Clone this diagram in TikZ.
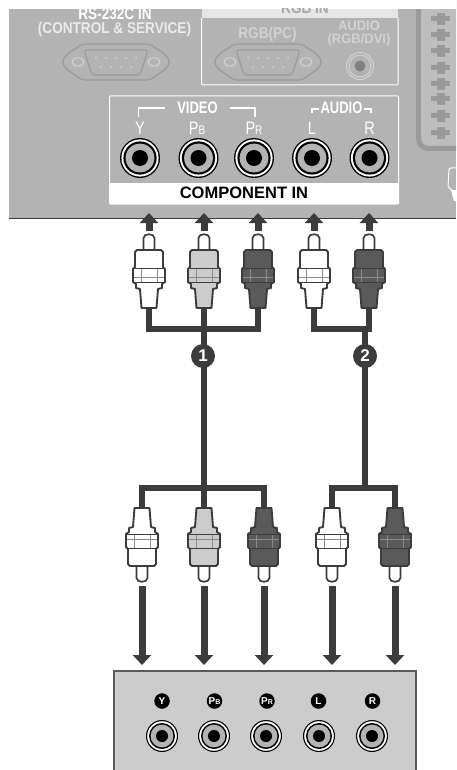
\documentclass[tikz,border=0pt]{standalone}
\usepackage{fontspec}
\setmainfont{Liberation Sans}
\usetikzlibrary{arrows.meta}
\definecolor{panel}{HTML}{B3B3B3}
\definecolor{dk}{HTML}{3C3C3C}
\definecolor{mid}{HTML}{CCCCCC}
\definecolor{drk}{HTML}{5A5A5A}
\definecolor{soft}{HTML}{D2D2D2}
\definecolor{scartin}{HTML}{BDBDBD}
\definecolor{scartln}{HTML}{9A9A9A}
\newcommand{\tall}[2][1.22]{\scalebox{1}[#1]{#2}}
\tikzset{
  cable/.style={draw=dk,line width=6pt},
  flow/.style={draw=dk,line width=7pt,-{Triangle[width=18pt,length=10pt]}},
  tlabel/.style={inner sep=0pt,font=\bfseries\fontsize{13.6}{13.6}\selectfont,text=white},
  jlabel/.style={inner sep=0pt,font=\fontsize{14.5}{14.5}\selectfont,text=white},
  portline/.style={draw=white,line width=1.1pt},
  badge/.style={circle,fill=dk,minimum size=24pt,inner sep=0pt,text=white,font=\bfseries\fontsize{17}{17}\selectfont},
  minibadge/.style={circle,fill=black,minimum size=15.5pt,inner sep=0pt,text=white,font=\bfseries\fontsize{10}{10}\selectfont},
  dsub/.style={draw=scartln,line width=1.2pt}
}
\newcommand{\plugbody}[1]{%
  \draw[draw=dk,fill=white,line width=1.7pt] (-5.5,-56) -- (-5.5,-70) .. controls (-5.5,-75) and (5.5,-75) .. (5.5,-70) -- (5.5,-56) -- cycle;
  \draw[draw=dk,fill=#1,line width=1.9pt,line join=round]
    (-7.5,0) -- (-9,-19) -- (-13,-20) -- (-13,-24) -- (-16,-26) -- (-16,-39) -- (-14,-41) -- (-14,-56) -- (-12,-58)
    -- (12,-58) -- (14,-56) -- (14,-41) -- (16,-39) -- (16,-26) -- (13,-24) -- (13,-20) -- (9,-19) -- (7.5,0) -- cycle;
  \draw[draw=drk!70!white,line width=.9pt] (-8,-40) -- (-8,-26) (8,-40) -- (8,-26) (-15,-31) -- (15,-31);
  \draw[draw=dk,line width=1pt] (-15,-26) -- (15,-26) (-14,-40) -- (14,-40);
}
\newcommand{\bigjack}[2]{%
  \fill[black] (#1) circle[radius=20];
  \fill[white] (#1) circle[radius=18.6];
  \fill[black] (#1) circle[radius=16.6];
  \fill[panel] (#1) circle[radius=14.4];
  \node[circle,fill=black,minimum size=16pt,inner sep=0pt] (#2) at (#1) {};
}
\newcommand{\smalljack}[2]{%
  \fill[black] (#1) circle[radius=16];
  \fill[white] (#1) circle[radius=14.8];
  \fill[black] (#1) circle[radius=13];
  \fill[panel] (#1) circle[radius=11.4];
  \node[circle,fill=black,minimum size=12pt,inner sep=0pt] (#2) at (#1) {};
}
\newcommand{\serial}[1]{%
  \begin{scope}[shift={(#1)}]
    \draw[dsub] (-44,-11) .. controls (-34,-18) and (-34,-18) .. (-28,-18) -- (28,-18)
       .. controls (34,-18) and (34,-18) .. (44,-11) .. controls (56,-4) and (56,4) .. (44,11)
       .. controls (34,18) and (34,18) .. (28,18) -- (-28,18)
       .. controls (-34,18) and (-34,18) .. (-44,11) .. controls (-56,4) and (-56,-4) .. (-44,-11) -- cycle;
    \draw[dsub,rounded corners=3pt] (-32,-12) -- (32,-12) -- (24,13) -- (-24,13) -- cycle;
    \draw[draw=soft,line width=1.1pt] (-38,0) ellipse[x radius=6,y radius=4.2];
    \draw[draw=soft,line width=1.1pt] (38,0) ellipse[x radius=6,y radius=4.2];
    \foreach \px in {-20,-10,0,10,20} \fill[soft] (\px,-4) circle[radius=1];
    \foreach \px in {-15,-5,5,15} \fill[soft] (\px,5) circle[radius=1];
  \end{scope}}
\begin{document}
\begin{tikzpicture}[x=1pt,y=-1pt]
\useasboundingbox (0,0) rectangle (456,770);
\clip (0,0) rectangle (456,770);
\fill[white] (0,0) rectangle (456,770);
% back panel
\fill[panel] (9,9) rectangle (456,218.5);
\draw[draw=dk,line width=1pt] (9,218.5) -- (456,218.5);
% scart
\draw[draw=scartln,fill=scartin,line width=5pt,rounded corners=10pt] (418.5,0) -- (418.5,148.5) -- (475,148.5) -- (475,0);
\fill[white] (410,0) rectangle (460,9);
\foreach \py in {19,35,51,68,84,99,116,133}{
  \fill[scartln] (431,\py-2.5) rectangle (450,\py+2.5);
  \fill[scartln] (436.5,\py-6) rectangle (444.5,\py+6);
}
\draw[draw=white,line width=1pt,rounded corners=2pt] (456,168) -- (449,168) -- (448,188) -- (453,190) -- (453,196);
\fill[white] (451,190) -- (456,190) -- (456,201) -- (454,201) -- cycle;
% rs232
\begin{scope}
  \clip (9,9) rectangle (200,60);
  \node[tlabel] (rs) at (115,13.5) {\tall{RS-232C IN}};
\end{scope}
\node[tlabel,text=white!92!black] (ctl) at (114.5,29.5) {\tall[1.15]{(CONTROL \& SERVICE)}};
\serial{116,62}
% rgb box
\fill[soft!55!white] (201.5,9) rectangle (398,18);
\begin{scope}
  \clip (201,9) rectangle (398,18);
  \node[tlabel,text=soft!80!black] (rgbin) at (305,8) {\tall{RGB IN}};
\end{scope}
\draw[draw=white,line width=1pt,rounded corners=1pt] (201.5,18) -- (201.5,85) -- (398,85) -- (398,18);
\node[tlabel,text=soft] (rgbpc) at (267.5,34.5) {\tall[1.15]{RGB(PC)}};
\node[tlabel,text=soft,font=\bfseries\fontsize{13}{13}\selectfont] (audrgb) at (359,26) {\tall[1.05]{AUDIO}};
\node[tlabel,text=soft,font=\bfseries\fontsize{13}{13}\selectfont] (audrgb2) at (359,40) {\tall[1.05]{(RGB/DVI)}};
\serial{268,62}
\draw[draw=soft,line width=1pt] (360,66) circle[radius=13.5];
\draw[draw=soft,line width=1pt] (360,66) circle[radius=11];
\fill[gray] (360,66) circle[radius=5.5];
% component box
\draw[draw=white,line width=1pt,rounded corners=1pt,fill=panel] (109.5,96) rectangle (398.5,204);
\fill[white] (109.5,183) rectangle (398.5,204);
\node[inner sep=0pt,font=\bfseries\fontsize{16.5}{16.5}\selectfont] (ci) at (244,193) {COMPONENT IN};
\node[tlabel,font=\bfseries\fontsize{13}{13}\selectfont] (vid) at (197.5,108) {\tall[1.28]{VIDEO}};
\node[tlabel,font=\bfseries\fontsize{13}{13}\selectfont] (aud) at (341.5,108) {\tall[1.28]{AUDIO}};
\draw[portline] (vid.west) ++(-12,0) -- (138.5,108) -- (138.5,117);
\draw[portline] (vid.east) ++(12,0) -- (255,108) -- (255,117);
\draw[portline] (aud.west) ++(-1,1) -- (312,109) -- (312,113);
\draw[portline] (aud.east) ++(1,1) -- (371,109) -- (371,113);
\node[jlabel] at (140,128) {\tall[1.25]{Y}};
\node[jlabel] at (197,128) {\tall[1.25]{P{\fontsize{10}{10}\selectfont B}}};
\node[jlabel] at (254,128) {\tall[1.25]{P{\fontsize{10}{10}\selectfont R}}};
\node[jlabel] at (312,128) {\tall[1.25]{L}};
\node[jlabel] at (369.5,128) {\tall[1.25]{R}};
\bigjack{140,158}{ja}
\bigjack{198.5,158}{jb}
\bigjack{254,158}{jc}
\bigjack{312,158}{jd}
\bigjack{369.5,158}{je}
% up arrows
\foreach \nm/\px in {a/149,b/204,c/258,d/314,e/369}{
  \coordinate (ua\nm) at (\px,231);
  \coordinate (ub\nm) at (\px,213);
  \draw[flow] (ua\nm) -- (ub\nm);
}
% cables
\coordinate (p1) at (149,308); \coordinate (p2) at (204,308); \coordinate (p3) at (258,308);
\coordinate (p4) at (314,308); \coordinate (p5) at (369,308);
\coordinate (q1) at (142,508); \coordinate (q2) at (204,508); \coordinate (q3) at (264,508);
\coordinate (q4) at (332,508); \coordinate (q5) at (395,508);
\coordinate (h1) at (204,329); \coordinate (h2) at (365,329);
\coordinate (l1) at (204,488); \coordinate (l2) at (365,488);
\draw[cable,line join=miter] (p1) |- (h1) -| (p3);
\draw[cable,line join=miter] (p4) |- (h2) -| (p5);
\draw[cable,line join=miter] (q1) |- (l1) -| (q3);
\draw[cable,line join=miter] (q4) |- (l2) -| (q5);
\draw[cable] (p2) -- (q2);
\draw[cable] (h2) -- (l2);
\node[badge] (b1) at (203,356) {1};
\node[badge] (b2) at (365,356) {2};
% plugs
\begin{scope}[shift={(p1)}] \plugbody{white} \end{scope}
\begin{scope}[shift={(p2)}] \plugbody{mid} \end{scope}
\begin{scope}[shift={(p3)}] \plugbody{drk} \end{scope}
\begin{scope}[shift={(p4)}] \plugbody{white} \end{scope}
\begin{scope}[shift={(p5)}] \plugbody{drk} \end{scope}
\begin{scope}[shift={(q1)},yscale=-1] \plugbody{white} \end{scope}
\begin{scope}[shift={(q2)},yscale=-1] \plugbody{mid} \end{scope}
\begin{scope}[shift={(q3)},yscale=-1] \plugbody{drk} \end{scope}
\begin{scope}[shift={(q4)},yscale=-1] \plugbody{white} \end{scope}
\begin{scope}[shift={(q5)},yscale=-1] \plugbody{drk} \end{scope}
% down arrows
\foreach \nm/\px in {a/142,b/204,c/264,d/332,e/395}{
  \coordinate (da\nm) at (\px,586);
  \coordinate (db\nm) at (\px,665);
  \draw[flow] (da\nm) -- (db\nm);
}
% bottom box
\draw[draw=drk,fill=mid,line width=2pt] (114,771) -- (114,671) -- (416,671) -- (416,771);
\node[minibadge] at (162,701) {Y};
\node[minibadge] at (214.5,701) {P{\fontsize{7}{7}\selectfont B}};
\node[minibadge] at (267,701) {P{\fontsize{7}{7}\selectfont R}};
\node[minibadge] at (318.5,701) {L};
\node[minibadge] at (372.5,701) {R};
\smalljack{162,736}{ka}
\smalljack{214,736}{kb}
\smalljack{266,736}{kc}
\smalljack{319,736}{kd}
\smalljack{372,736}{ke}
\end{tikzpicture}
\end{document}
